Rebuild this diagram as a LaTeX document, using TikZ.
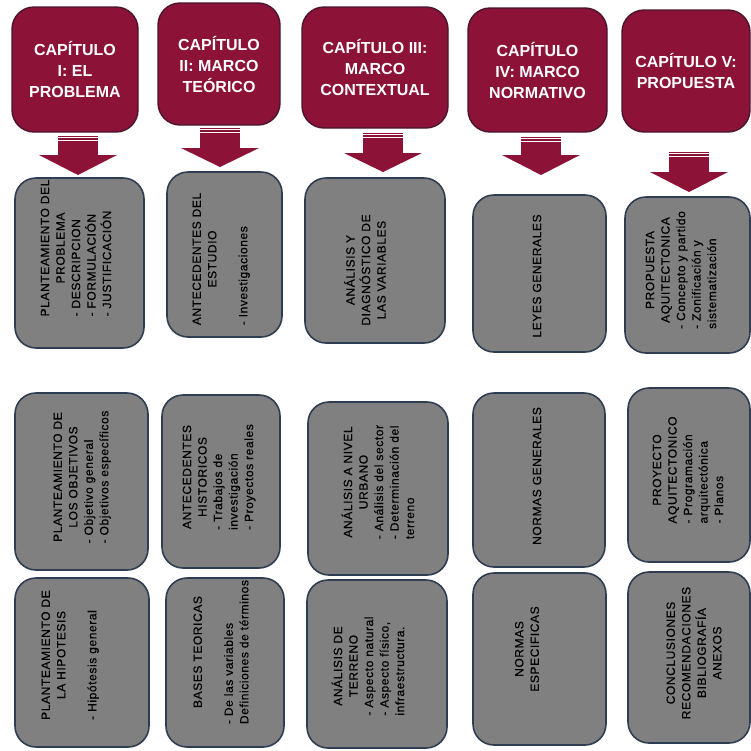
\documentclass[tikz,border=0pt]{standalone}
\usepackage{fontspec}
\setmainfont{Liberation Sans}
\newfontfamily\gfont[LetterSpace=5, FakeBold=0.4]{Liberation Sans}
\usepackage{array}
\definecolor{hdrred}{HTML}{8C1238}
\definecolor{hdrline}{HTML}{4B1530}
\definecolor{boxgray}{HTML}{808080}
\definecolor{boxline}{HTML}{2F3D52}
\newcommand{\ctrl}[1]{\multicolumn{1}{@{}c@{}}{#1}}
% block arrow: center x, top, head top, tip
\newcommand{\blockarrow}[4]{%
  \fill[hdrred] ({#1-20},{-#2}) rectangle ({#1+20},{-#3-1});
  \fill[hdrred] ({#1-39},{-#3}) -- ({#1+39},{-#3}) -- (#1,{-#4}) -- cycle;
  \draw[white, line width=0.9pt] ({#1-20},{-#2-1.8}) -- ({#1+20},{-#2-1.8});
  \draw[white, line width=0.9pt] ({#1-20},{-#2-4.2}) -- ({#1+20},{-#2-4.2});
}
% box: name, x1, x2, y1, y2
\newcommand{\gbox}[5]{%
  \node[gbox, minimum width={(#3-#2)*1pt}, minimum height={(#5-#4)*1pt}] (#1) at ({(#2+#3)/2},{-(#4+#5)/2}) {};
}
\newcommand{\hdrbox}[6]{%
  \node[hdr, minimum width={(#3-#2)*1pt}, minimum height={(#5-#4)*1pt}] (#1) at ({(#2+#3)/2},{-(#4+#5)/2}) {#6};
}
\tikzset{
  gbox/.style={draw=boxline, line width=1.6pt, fill=boxgray, rounded corners=21pt, inner sep=0pt},
  hdr/.style={draw=hdrline, line width=1.4pt, fill=hdrred, rounded corners=22pt, inner sep=0pt,
    text=white, align=center, font=\bfseries\fontsize{16}{21}\selectfont},
  gtxt/.style={rotate=90, inner sep=0pt, text=black, font=\gfont\fontsize{12}{15.5}\selectfont}
}
\begin{document}
\begin{tikzpicture}[x=1pt, y=1pt]
\useasboundingbox (0,0) rectangle (751,-750);
\fill[white] (0,0) rectangle (751,-750);

% headers
\hdrbox{h1}{12}{138}{7}{132}{CAPÍTULO\\I: EL\\PROBLEMA}
\hdrbox{h2}{158}{280}{3}{125}{CAPÍTULO\\II: MARCO\\TEÓRICO}
\hdrbox{h3}{302}{448}{7}{128}{CAPÍTULO III:\\MARCO\\CONTEXTUAL}
\hdrbox{h4}{468}{607}{8}{132}{CAPÍTULO\\IV: MARCO\\NORMATIVO}
\hdrbox{h5}{622}{750}{10}{132}{CAPÍTULO V:\\PROPUESTA}

% arrows
\blockarrow{78}{136}{155}{175}
\blockarrow{220}{128}{148}{167}
\blockarrow{383}{133}{153}{172}
\blockarrow{541}{137}{155}{175}
\blockarrow{689}{152}{172}{192}

% row 1
\gbox{b11}{15}{144}{178}{348}
\gbox{b12}{167}{282}{172}{337}
\gbox{b13}{305}{445}{178}{343}
\gbox{b14}{473}{606}{195}{352}
\gbox{b15}{625}{750}{197}{353}
% row 2
\gbox{b21}{15}{148}{393}{570}
\gbox{b22}{162}{280}{395}{568}
\gbox{b23}{308}{448}{402}{575}
\gbox{b24}{473}{605}{393}{567}
\gbox{b25}{628}{750}{388}{562}
% row 3
\gbox{b31}{15}{149}{578}{747}
\gbox{b32}{166}{284}{578}{747}
\gbox{b33}{307}{447}{580}{748}
\gbox{b34}{473}{606}{573}{745}
\gbox{b35}{628}{750}{572}{743}

% texts
\node[gtxt] (t11) at (77,-248) {\begin{tabular}{@{}l@{}}\ctrl{PLANTEAMIENTO DEL}\\\ctrl{PROBLEMA}\\- DESCRIPCION\\- FORMULACIÓN\\- JUSTIFICACIÓN\end{tabular}};
\node[gtxt] (t12) at (221,-259) {\begin{tabular}{@{}l@{}}\ctrl{ANTECEDENTES DEL}\\\ctrl{ESTUDIO}\\ \\- Investigaciones\end{tabular}};
\node[gtxt] (t13) at (367,-270) {\begin{tabular}{@{}c@{}}ANÁLISIS Y\\DIAGNÓSTICO DE\\LAS VARIABLES\end{tabular}};
\node[gtxt] (t14) at (537,-276) {LEYES GENERALES};
\node[gtxt] (t15) at (682,-270) {\begin{tabular}{@{}l@{}}\ctrl{PROPUESTA}\\\ctrl{AQUITECTONICA}\\- Concepto y partido\\- Zonificación y\\sistematización\end{tabular}};

\node[gtxt] (t21) at (82,-477) {\begin{tabular}{@{}l@{}}\ctrl{PLANTEAMIENTO DE}\\\ctrl{LOS OBJETIVOS}\\- Objetivo general\\- Objetivos específicos\end{tabular}};
\node[gtxt] (t22) at (219,-477) {\begin{tabular}{@{}l@{}}\ctrl{ANTECEDENTES}\\\ctrl{HISTORICOS}\\- Trabajos de\\investigación\\- Proyectos reales\end{tabular}};
\node[gtxt] (t23) at (380,-482) {\begin{tabular}{@{}l@{}}\ctrl{ANÁLISIS A NIVEL}\\\ctrl{URBANO}\\- Análisis del sector\\- Determinación del\\terreno\end{tabular}};
\node[gtxt] (t24) at (537,-476) {NORMAS GENERALES};
\node[gtxt] (t25) at (689,-470) {\begin{tabular}{@{}l@{}}\ctrl{PROYECTO}\\\ctrl{AQUITECTONICO}\\- Programación\\arquitectónica\\- Planos\end{tabular}};

\node[gtxt] (t31) at (70,-655) {\begin{tabular}{@{}l@{}}\ctrl{PLANTEAMIENTO DE}\\\ctrl{LA HIPOTESIS}\\ \\- Hipótesis general\end{tabular}};
\node[gtxt] (t32) at (222,-652) {\begin{tabular}{@{}l@{}}\ctrl{BASES TEORICAS}\\ \\- De las variables\\Definiciones de términos\end{tabular}};
\node[gtxt] (t33) at (370,-666) {\begin{tabular}{@{}l@{}}\ctrl{ANÁLISIS DE}\\\ctrl{TERRENO}\\- Aspecto natural\\- Aspecto físico,\\infraestructura.\end{tabular}};
\node[gtxt] (t34) at (528,-649) {\begin{tabular}{@{}c@{}}NORMAS\\ESPECIFICAS\end{tabular}};
\node[gtxt] (t35) at (695,-653) {\begin{tabular}{@{}c@{}}CONCLUSIONES\\RECOMENDACIONES\\BIBLIOGRAFÍA\\ANEXOS\end{tabular}};
\end{tikzpicture}
\end{document}
